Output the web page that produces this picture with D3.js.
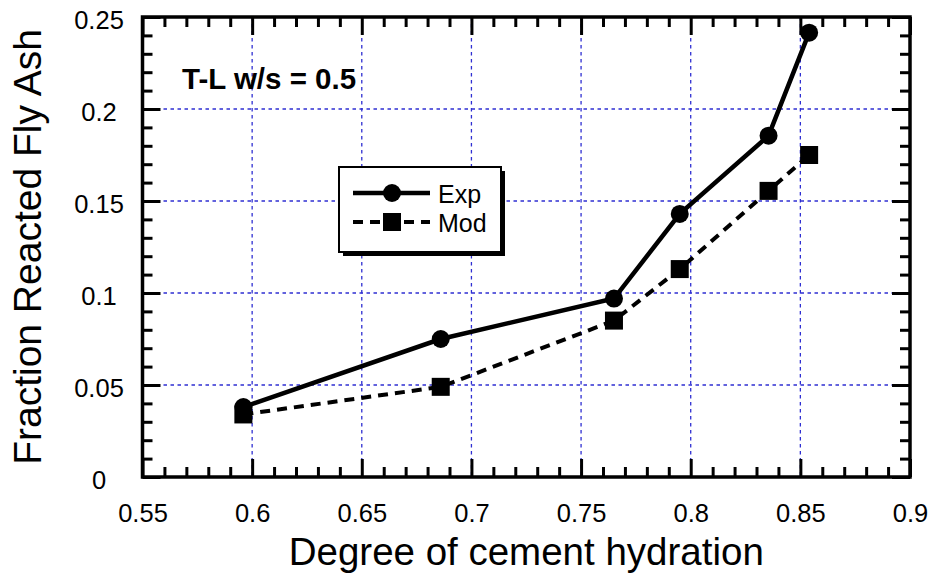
<!DOCTYPE html>
<html>
<head>
<meta charset="utf-8">
<script src="https://cdn.jsdelivr.net/npm/d3@7"></script>
<style>
  html, body { margin: 0; padding: 0; background: #fff; }
  svg { display: block; font-family: "Liberation Sans", Arial, sans-serif; }
</style>
</head>
<body>
<svg id="chart" width="933" height="577"></svg>
<script>
// ---- data ----
const hydration = [0.596, 0.686, 0.765, 0.795, 0.8355, 0.854];
const expValues = [0.038, 0.075, 0.097, 0.143, 0.1855, 0.2415];
const modValues = [0.034, 0.049, 0.085, 0.113, 0.1555, 0.175];
const xTickLabels = [0.55, 0.6, 0.65, 0.7, 0.75, 0.8, 0.85, 0.9];
const yTickLabels = [0, 0.05, 0.1, 0.15, 0.2, 0.25];
const seriesNames = ["Exp", "Mod"];
const xTitle = "Degree of cement hydration";
const yTitle = "Fraction Reacted Fly Ash";
const annotation = "T-L w/s = 0.5";

// ---- layout ----
const L = 142.5, R = 910, T = 17, B = 477;
const svg = d3.select("#chart");
const x = d3.scaleLinear().domain([0.55, 0.9]).range([L, R]);
const y = d3.scaleLinear().domain([0, 0.25]).range([B, T]);

const xMinor = d3.range(0, 36).map(i => +(0.55 + i * 0.01).toFixed(2)).filter(v => !xTickLabels.some(t => Math.abs(t - v) < 1e-9));
const yMinor = d3.range(0, 26).map(i => +(i * 0.01).toFixed(2)).filter(v => !yTickLabels.some(t => Math.abs(t - v) < 1e-9));

// grid
const gridColor = "#2f2fd2";
const grid = svg.append("g");
grid.selectAll("line.gx").data(xTickLabels.slice(1, -1)).join("line")
  .attr("x1", d => x(d)).attr("x2", d => x(d)).attr("y1", T).attr("y2", B)
  .attr("stroke", gridColor).attr("stroke-width", 1.3).attr("stroke-dasharray", "3.5,3.5");
grid.selectAll("line.gy").data(yTickLabels.slice(1, -1)).join("line")
  .attr("y1", d => y(d)).attr("y2", d => y(d)).attr("x1", L).attr("x2", R)
  .attr("stroke", gridColor).attr("stroke-width", 1.3).attr("stroke-dasharray", "3.5,3.5");

// axes (ticks inward)
function styleAxis(g) {
  g.select(".domain").remove();
  g.selectAll(".tick line").attr("stroke", "#000").attr("stroke-width", 3);
}
const fontTick = 25.5;

// bottom
svg.append("g").attr("transform", `translate(0,${B})`)
  .call(d3.axisBottom(x).tickValues(xTickLabels).tickSizeInner(-18).tickSizeOuter(0).tickPadding(27)
    .tickFormat(d => String(d)))
  .call(styleAxis)
  .call(g => g.selectAll("text").attr("font-size", fontTick).attr("fill", "#000").attr("font-family", "Liberation Sans, Arial, sans-serif"));
svg.append("g").attr("transform", `translate(0,${B})`)
  .call(d3.axisBottom(x).tickValues(xMinor).tickSizeInner(-10).tickSizeOuter(0).tickFormat(""))
  .call(styleAxis);
// top
svg.append("g").attr("transform", `translate(0,${T})`)
  .call(d3.axisTop(x).tickValues(xTickLabels).tickSizeInner(-18).tickSizeOuter(0).tickFormat(""))
  .call(styleAxis);
svg.append("g").attr("transform", `translate(0,${T})`)
  .call(d3.axisTop(x).tickValues(xMinor).tickSizeInner(-10).tickSizeOuter(0).tickFormat(""))
  .call(styleAxis);
// left
svg.append("g").attr("transform", `translate(${L},0)`)
  .call(d3.axisLeft(y).tickValues(yTickLabels).tickSizeInner(-18).tickSizeOuter(0).tickFormat(d => String(d)))
  .call(styleAxis)
  .call(g => g.selectAll("text").attr("font-size", fontTick).attr("fill", "#000")
    .attr("font-family", "Liberation Sans, Arial, sans-serif")
    .attr("text-anchor", "middle").attr("x", 99 - L).attr("dy", 11.5));
svg.append("g").attr("transform", `translate(${L},0)`)
  .call(d3.axisLeft(y).tickValues(yMinor).tickSizeInner(-10).tickSizeOuter(0).tickFormat(""))
  .call(styleAxis);
// right
svg.append("g").attr("transform", `translate(${R},0)`)
  .call(d3.axisRight(y).tickValues(yTickLabels).tickSizeInner(-18).tickSizeOuter(0).tickFormat(""))
  .call(styleAxis);
svg.append("g").attr("transform", `translate(${R},0)`)
  .call(d3.axisRight(y).tickValues(yMinor).tickSizeInner(-10).tickSizeOuter(0).tickFormat(""))
  .call(styleAxis);

// frame
svg.append("rect").attr("x", L).attr("y", T).attr("width", R - L).attr("height", B - T)
  .attr("fill", "none").attr("stroke", "#000").attr("stroke-width", 3.5);

// titles
svg.append("text").attr("x", (L + R) / 2).attr("y", 565).attr("text-anchor", "middle")
  .attr("font-size", 38.5).attr("fill", "#000").text(xTitle);
svg.append("text").attr("transform", `translate(41,${(T + B) / 2}) rotate(-90)`).attr("text-anchor", "middle")
  .attr("font-size", 39).attr("fill", "#000").text(yTitle);

// annotation
svg.append("text").attr("x", 182).attr("y", 89).attr("font-size", 29.5).attr("font-weight", "bold")
  .attr("fill", "#000").text(annotation);

// series
const expPts = hydration.map((h, i) => [h, expValues[i]]);
const modPts = hydration.map((h, i) => [h, modValues[i]]);
const line = d3.line().x(d => x(d[0])).y(d => y(d[1]));

svg.append("path").datum(modPts).attr("d", line).attr("fill", "none").attr("stroke", "#000")
  .attr("stroke-width", 4).attr("stroke-dasharray", "10,7");
svg.append("path").datum(expPts).attr("d", line).attr("fill", "none").attr("stroke", "#000")
  .attr("stroke-width", 4.5);

const sq = 18;
svg.selectAll("rect.mod").data(modPts).join("rect").attr("class", "mod")
  .attr("x", d => x(d[0]) - sq / 2).attr("y", d => y(d[1]) - sq / 2)
  .attr("width", sq).attr("height", sq).attr("fill", "#000");
svg.selectAll("circle.exp").data(expPts).join("circle").attr("class", "exp")
  .attr("cx", d => x(d[0])).attr("cy", d => y(d[1])).attr("r", 9).attr("fill", "#000");

// legend
const lg = svg.append("g");
const bx = 339, by = 167, bw = 162, bh = 85;
lg.append("rect").attr("x", bx + 4).attr("y", by + 4).attr("width", bw).attr("height", bh).attr("fill", "#000");
lg.append("rect").attr("x", bx).attr("y", by).attr("width", bw).attr("height", bh)
  .attr("fill", "#fff").attr("stroke", "#000").attr("stroke-width", 2);
const rows = [193, 222];
lg.append("line").attr("x1", 353).attr("x2", 430).attr("y1", rows[0]).attr("y2", rows[0])
  .attr("stroke", "#000").attr("stroke-width", 4.5);
lg.append("circle").attr("cx", 392).attr("cy", rows[0]).attr("r", 9).attr("fill", "#000");
lg.append("line").attr("x1", 353).attr("x2", 430).attr("y1", rows[1]).attr("y2", rows[1])
  .attr("stroke", "#000").attr("stroke-width", 4).attr("stroke-dasharray", "10,7");
lg.append("rect").attr("x", 392 - sq / 2).attr("y", rows[1] - sq / 2).attr("width", sq).attr("height", sq).attr("fill", "#000");
lg.selectAll("text").data(seriesNames).join("text")
  .attr("x", 438).attr("y", (d, i) => rows[i] + 10).attr("font-size", 25).attr("fill", "#000").text(d => d);
</script>
</body>
</html>
